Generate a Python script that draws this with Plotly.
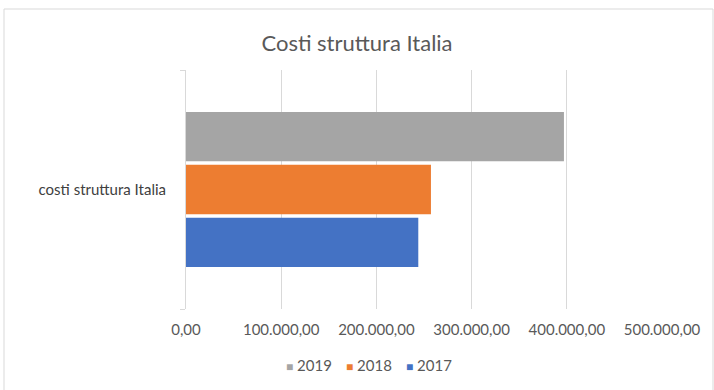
import plotly.graph_objects as go

# Data
categories = ["costi struttura Italia"]
years = ["2017", "2018", "2019"]
values_2017 = [244000]
values_2018 = [257300]
values_2019 = [397000]
colors = {"2017": "#4472C4", "2018": "#ED7D31", "2019": "#A5A5A5"}
x_ticks = [0, 100000, 200000, 300000, 400000, 500000]

series = {"2017": values_2017, "2018": values_2018, "2019": values_2019}

W, H = 714, 390
ML, MR, MT, MB = 186, 52, 70, 81
pw = W - ML - MR
ph = H - MT - MB
FONT = "Lato, Calibri, sans-serif"
TXT = "#595959"

fig = go.Figure()
for y in years:
    fig.add_trace(go.Bar(
        y=categories, x=series[y], name=y, orientation="h",
        marker=dict(color=colors[y], line=dict(width=0)),
        showlegend=False,
    ))

# Legend row: small coloured squares followed by the year, newest first
legend_years = list(reversed(years))
pitch = 60
legend_left = 284
legend_y = 365
annotations = []
for i, y in enumerate(legend_years):
    px = legend_left + i * pitch
    annotations.append(dict(
        xref="paper", yref="paper",
        x=(px - ML) / pw, y=-(legend_y - (H - MB)) / ph,
        xanchor="left", yanchor="middle", showarrow=False,
        text=f'<span style="color:{colors[y]};font-size:12px">■</span>&nbsp;{y}',
        font=dict(family=FONT, size=15, color=TXT),
    ))

fig.update_layout(
    width=W, height=H,
    margin=dict(l=ML, r=MR, t=MT, b=MB),
    paper_bgcolor="white", plot_bgcolor="white",
    font=dict(family=FONT, color=TXT, size=14),
    separators=",.",
    barmode="group", bargap=0.337, bargroupgap=0.066,
    title=dict(text="Costi struttura Italia", x=0.5, xanchor="center",
               y=1 - 43 / H, yanchor="middle",
               font=dict(family=FONT, size=22, color=TXT)),
    xaxis=dict(range=[0, 500000], tickvals=x_ticks, tickformat=",.2f",
               showgrid=True, gridcolor="#D9D9D9", gridwidth=1,
               zeroline=False, showline=False, ticks="",
               tickfont=dict(family=FONT, size=15, color=TXT),
               ticklabelstandoff=10),
    yaxis=dict(showline=True, linecolor="#D9D9D9", linewidth=1,
               ticks="outside", tickson="boundaries", ticklen=5,
               tickcolor="#D9D9D9", showgrid=False,
               tickfont=dict(family=FONT, size=15, color="#404040"),
               ticklabelstandoff=16),
    showlegend=False,
    annotations=annotations,
    shapes=[dict(type="rect", xref="paper", yref="paper",
                 x0=(4 - ML) / pw, x1=(W - 1 - ML) / pw,
                 y0=-(MB + 5) / ph, y1=1 + (MT - 9) / ph,
                 line=dict(color="#D9D9D9", width=1), layer="below")],
)

fig.write_html("out.html")
